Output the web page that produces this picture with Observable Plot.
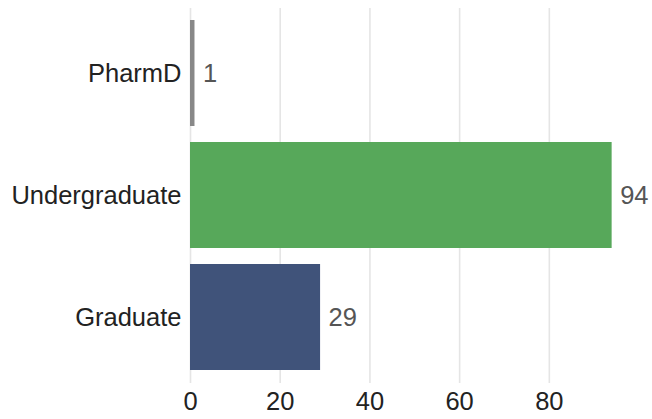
<!DOCTYPE html>
<html>
<head>
<meta charset="utf-8">
<script src="https://cdn.jsdelivr.net/npm/d3@7"></script>
<script src="https://cdn.jsdelivr.net/npm/@observablehq/plot@0.6"></script>
<style>
  html, body { margin: 0; padding: 0; background: #fff; }
  svg { display: block; }
</style>
</head>
<body>
<div id="chart"></div>
<script>
const categories = ["PharmD", "Undergraduate", "Graduate"];
const counts = [1, 94, 29];
const barColors = ["#888888", "#57a85a", "#40537a"];
const xTicks = [0, 20, 40, 60, 80];

const data = categories.map((c, i) => ({category: c, count: counts[i]}));

const chart = Plot.plot({
  width: 652,
  height: 419,
  marginLeft: 190,
  marginRight: 0,
  marginTop: 8,
  marginBottom: 36,
  style: {fontFamily: "Liberation Sans, Arial, sans-serif", fontSize: "25.5px", background: "#fff"},
  x: {domain: [0, 103], ticks: xTicks, tickSize: 0, tickPadding: 8, label: null},
  y: {domain: categories, paddingInner: 0.13, paddingOuter: 0.1, tickSize: 0, tickPadding: 9, label: null},
  color: {domain: categories, range: barColors},
  marks: [
    Plot.ruleX(xTicks, {stroke: "#e5e5e5", strokeWidth: 1.6}),
    Plot.barX(data, {x: "count", y: "category", fill: "category"}),
    Plot.text(data, {x: "count", y: "category", text: d => String(d.count), dx: 8, textAnchor: "start", fill: "#555", fontSize: 25.5}),
    Plot.axisX({ticks: xTicks, tickSize: 0, tickPadding: 8, fill: "#222", fontSize: 25.5, label: null}),
    Plot.axisY({tickSize: 0, tickPadding: 9, fill: "#222", fontSize: 25.5, label: null})
  ]
});
document.getElementById("chart").appendChild(chart);
</script>
</body>
</html>
